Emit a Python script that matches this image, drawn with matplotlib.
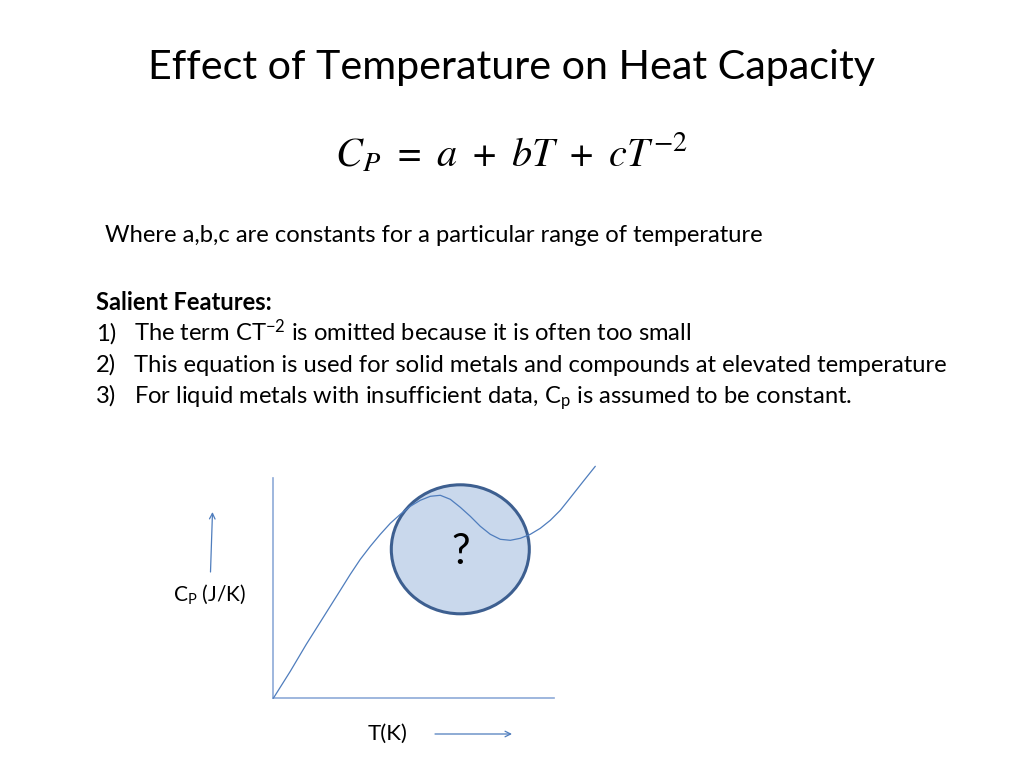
import matplotlib
matplotlib.use("Agg")
import matplotlib.pyplot as plt
from matplotlib.patches import Ellipse

plt.rcParams["font.family"] = ["Lato", "DejaVu Sans"]
plt.rcParams["mathtext.default"] = "regular"

# values (arbitrary units, origin at the axes corner)
temperature = [0, 17, 33, 50, 67, 77, 87, 97, 107, 117, 127, 137, 147, 157, 167,
               177, 187, 197, 207, 217, 227, 237, 247, 257, 267, 277, 287, 295,
               310, 322]
heat_capacity = [0, 27, 54, 81, 108, 124, 139, 152, 164, 175, 184, 192, 198,
                 202, 203, 199, 191, 182, 172, 164, 159, 158, 160, 164, 170,
                 178, 188, 198, 217, 232]

title = "Effect of Temperature on Heat Capacity"
equation = r"$C_{P}\;=\;a\;+\;bT\;+\;cT^{\,\mathrm{-2}}$"
note = "Where a,b,c are constants for a particular range of temperature"
heading = "Salient Features:"
features = [
    r"The term CT$^{-2}$ is omitted because it is often too small",
    "This equation is used for solid metals and compounds at elevated temperature",
    r"For liquid metals with insufficient data, C$_{p}$ is assumed to be constant.",
]

CURVE = "#4f7dbd"
AXIS = "#8eaad8"
BODY = 17.1

fig = plt.figure(figsize=(10.24, 7.68), dpi=100)

# page layer in pixel coordinates
page = fig.add_axes([0, 0, 1, 1])
page.set_xlim(0, 1024)
page.set_ylim(768, 0)
page.axis("off")

page.text(512, 79, title, fontsize=29.7, ha="center", va="baseline", color="black")
page.text(511, 167, equation, fontsize=29, ha="center", va="baseline",
          family="STIXGeneral", style="italic", math_fontfamily="stix",
          color="black")
page.text(105, 242, note, fontsize=BODY, ha="left", va="baseline")
page.text(96, 310, heading, fontsize=BODY, fontweight="bold", ha="left", va="baseline")
for i, line in enumerate(features):
    y = 341 + 31 * i
    page.text(96, y, f"{i + 1})", fontsize=BODY, ha="left", va="baseline")
    page.text(134, y, line, fontsize=BODY, ha="left", va="baseline")

# axis labels and arrows of the sketch
page.text(173, 601, r"C$_P$ (J/K)", fontsize=15, ha="left", va="baseline")
page.text(368, 740, "T(K)", fontsize=16, ha="left", va="baseline")
page.annotate("", xy=(212.5, 512), xytext=(210.5, 572),
              arrowprops=dict(arrowstyle="->", color=CURVE, lw=0.9,
                              shrinkA=0, shrinkB=0))
page.annotate("", xy=(512, 734), xytext=(435, 734),
              arrowprops=dict(arrowstyle="->", color=CURVE, lw=0.9,
                              shrinkA=0, shrinkB=0))

# the sketch itself
ax = fig.add_axes([273.3 / 1024, 69.7 / 768, 340 / 1024, 240 / 768])
ax.set_xlim(0, 340)
ax.set_ylim(0, 240)
ax.patch.set_alpha(0)
for side in ("top", "right"):
    ax.spines[side].set_visible(False)
for side in ("left", "bottom"):
    ax.spines[side].set_color(AXIS)
    ax.spines[side].set_linewidth(1.2)
ax.spines["left"].set_bounds(0, 220)
ax.spines["bottom"].set_bounds(0, 281)
ax.set_xticks([])
ax.set_yticks([])

ax.add_patch(Ellipse((187, 149), 138, 129, facecolor="#c9d8ec",
                     edgecolor="#3d5f90", lw=2.2, zorder=2))
ax.plot(temperature, heat_capacity, color=CURVE, lw=0.9, zorder=3,
        solid_joinstyle="round", solid_capstyle="round", clip_on=False)
ax.text(187, 146, "?", fontsize=30, ha="center", va="center", zorder=4)

fig.savefig("out.png", dpi=100, facecolor="white")
